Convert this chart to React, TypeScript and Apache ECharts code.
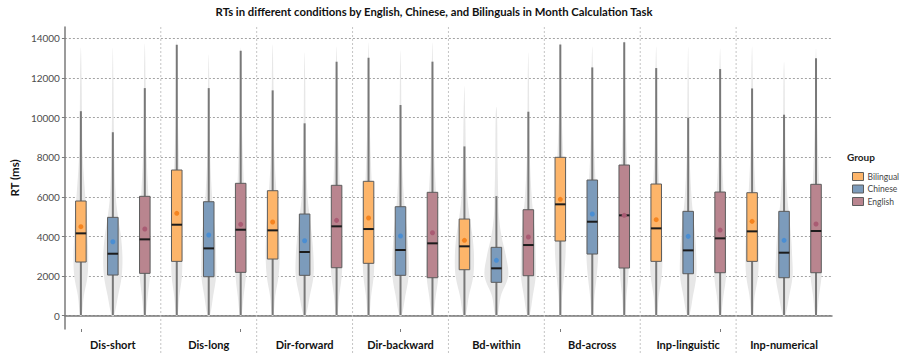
import React, { useEffect, useRef } from "react";
import * as echarts from "echarts";

// Task conditions on the x axis, and the three participant groups.
const conditions = [
  "Dis-short",
  "Dis-long",
  "Dir-forward",
  "Dir-backward",
  "Bd-within",
  "Bd-across",
  "Inp-linguistic",
  "Inp-numerical",
];
const groups = ["Bilingual", "Chinese", "English"];
const yTicks = [0, 2000, 4000, 6000, 8000, 10000, 12000, 14000];

// Box statistics per condition: [whisker low, Q1, median, Q3, whisker high] (ms)
const bilingualBoxes = [
  [30, 2712, 4160, 5793, 10329],
  [30, 2745, 4596, 7358, 13686],
  [30, 2863, 4311, 6313, 11380],
  [30, 2646, 4378, 6787, 13030],
  [30, 2323, 3505, 4883, 8550],
  [30, 3772, 5626, 7999, 13690],
  [30, 2745, 4412, 6651, 12506],
  [30, 2745, 4261, 6212, 11477],
];
const chineseBoxes = [
  [30, 2055, 3131, 4968, 9266],
  [30, 1970, 3401, 5757, 11494],
  [30, 2040, 3217, 5136, 9716],
  [30, 2040, 3318, 5505, 10640],
  [30, 1687, 2394, 3454, 6040],
  [30, 3116, 4747, 6853, 12540],
  [30, 2121, 3301, 5271, 10000],
  [30, 1919, 3183, 5271, 10150],
];
const englishBoxes = [
  [30, 2140, 3857, 6030, 11494],
  [30, 2190, 4343, 6686, 13383],
  [30, 2424, 4514, 6585, 12827],
  [30, 1919, 3656, 6232, 12830],
  [30, 2020, 3570, 5353, 10302],
  [30, 2409, 5070, 7610, 13806],
  [30, 2172, 3907, 6247, 12456],
  [30, 2172, 4278, 6636, 12996],
];

// Mean RT per condition (ms)
const bilingualMeans = [4496, 5170, 4732, 4934, 3808, 5878, 4850, 4765];
const chineseMeans = [3737, 4075, 3788, 4025, 2798, 5136, 4008, 3808];
const englishMeans = [4378, 4614, 4816, 4192, 3974, 5070, 4327, 4631];

// Violin density estimates, sampled at these RT levels (ms)
const violinLevels = [0, 1000, 2000, 3000, 4000, 5000, 6000, 8000, 10000, 12000];
const bilingualDensity = [
  [1, 4, 9, 10, 9, 8, 6, 2.5, 1.5, 1],
  [1, 3.5, 7, 7.5, 7, 6, 5, 3, 1.5, 1],
  [1, 3.5, 8, 9.5, 9, 7.5, 5.5, 2.5, 1.5, 1],
  [1, 3.5, 7, 8, 7.5, 6.5, 5, 3, 1.5, 1],
  [1.5, 6, 12, 13, 11, 7, 4, 2, 1.2, 0.6],
  [1, 2.5, 5, 7, 7.5, 7, 6, 4, 2, 1],
  [1, 3.5, 7.5, 8.5, 8, 7, 5, 2.5, 1.5, 1],
  [1, 3.5, 8, 9, 8.5, 7, 5, 2.5, 1.5, 1],
];
const chineseDensity = [
  [1.5, 7, 12, 13, 11, 7, 4, 2, 1.2, 0.8],
  [1.5, 6, 10, 10, 9, 6.5, 4.5, 2, 1.2, 0.8],
  [1.5, 7, 12, 12, 10, 7, 4, 2, 1.2, 0.8],
  [1.5, 6.5, 11, 11, 9.5, 7, 4.5, 2, 1.2, 0.8],
  [1.5, 6, 16, 13, 7, 3.5, 2.5, 1.5, 1, 0.6],
  [1, 3, 6, 8, 8, 7, 5.5, 3, 1.5, 1],
  [1.5, 6.5, 11, 11, 9.5, 7, 4.5, 2, 1.2, 0.8],
  [1.5, 7, 11.5, 11, 9.5, 7, 4.5, 2, 1.2, 0.8],
];
const englishDensity = [
  [1, 4, 7, 8, 7.5, 6.5, 5, 2.5, 1.5, 1],
  [1, 4, 7, 7.5, 7, 6.5, 5, 3, 1.5, 1],
  [1, 3.5, 7, 8, 7.5, 6.5, 5, 3, 1.5, 1],
  [1, 4.5, 8, 8, 7, 6, 5, 2.5, 1.5, 1],
  [1.5, 6, 10, 10, 9, 7, 4.5, 2, 1.2, 0.8],
  [1, 3, 5.5, 6.5, 6.5, 6, 5.5, 3.5, 2, 1],
  [1, 4.5, 8, 8, 7.5, 6.5, 5, 2.5, 1.5, 1],
  [1, 4, 7.5, 8, 7.5, 6.5, 5, 3, 1.5, 1],
];
// Largest observed RT per condition (end of each violin's upper tail)
const bilingualMax = [13550, 13900, 13700, 13800, 11600, 13900, 13600, 13600];
const chineseMax = [13550, 13200, 13300, 13400, 10550, 13600, 13600, 12830];
const englishMax = [13750, 13550, 13600, 13800, 13300, 14000, 13500, 13500];

const boxFills = ["#fdb56a", "#7c9bbb", "#b9858f"];
const meanColors = ["#f5841f", "#4a8ed3", "#a95b73"];

const FONT = "Lato";

export default function App() {
  const ref = useRef<HTMLDivElement>(null);

  useEffect(() => {
    if (!ref.current) return;
    const chart = echarts.init(ref.current, undefined, { renderer: "svg" });

    const boxSets = [bilingualBoxes, chineseBoxes, englishBoxes];
    const meanSets = [bilingualMeans, chineseMeans, englishMeans];
    const densitySets = [bilingualDensity, chineseDensity, englishDensity];
    const maxSets = [bilingualMax, chineseMax, englishMax];

    // Violins: drawn in the same dodged slots as the boxes.
    const violinData: number[][] = [];
    densitySets.forEach((set, g) =>
      set.forEach((row, i) => violinData.push([i, g, maxSets[g][i], ...row]))
    );

    const renderViolin = (_params: any, api: any) => {
      const ci = api.value(0);
      const g = api.value(1);
      const top = api.value(2);
      const band = api.size([1, 0])[0];
      const unit = (band / 97.6) * 0.75;
      const cx = api.coord([ci, 0])[0] + (g - 1) * (band / 3);
      const right: number[][] = [];
      violinLevels.forEach((lv, k) => {
        if (lv < top) {
          const w = api.value(3 + k) * unit;
          right.push([cx + w, api.coord([ci, lv])[1]]);
        }
      });
      const yTop = api.coord([ci, top])[1];
      const left = right
        .slice()
        .reverse()
        .map((p) => [2 * cx - p[0], p[1]]);
      const points = [...right, [cx, yTop], ...left];
      return {
        type: "polygon",
        shape: { points, smooth: 0.35 },
        style: { fill: "#e7e7e7", stroke: null },
      };
    };

    const makeBoxRenderer = (g: number) => (_params: any, api: any) => {
      const ci = api.value(0);
      const band = api.size([1, 0])[0];
      const cx = api.coord([ci, 0])[0] + (g - 1) * (band / 3);
      const y = (v: number) => api.coord([ci, v])[1];
      const bw = band * 0.11;
      const lo = api.value(1);
      const q1 = api.value(2);
      const med = api.value(3);
      const q3 = api.value(4);
      const hi = api.value(5);
      const mean = api.value(6);
      return {
        type: "group",
        children: [
          {
            type: "line",
            shape: { x1: cx, y1: y(hi), x2: cx, y2: y(lo) },
            style: { stroke: "#787878", lineWidth: 2 },
          },
          {
            type: "rect",
            shape: { x: cx - bw / 2, y: y(q3), width: bw, height: y(q1) - y(q3) },
            style: { fill: boxFills[g], stroke: "#5c5c5c", lineWidth: 1 },
          },
          {
            type: "line",
            shape: { x1: cx - bw / 2, y1: y(med), x2: cx + bw / 2, y2: y(med) },
            style: { stroke: "#1c1c1c", lineWidth: 2 },
          },
          {
            type: "circle",
            shape: { cx, cy: y(mean), r: 2.5 },
            style: { fill: meanColors[g] },
          },
        ],
      };
    };

    // Dashed separators between neighbouring conditions.
    const separatorData = conditions.slice(0, -1).map((_, i) => [i]);
    const renderSeparator = (params: any, api: any) => {
      const ci = api.value(0);
      const band = api.size([1, 0])[0];
      const x = api.coord([ci, 0])[0] + band / 2;
      const cs = params.coordSys;
      return {
        type: "line",
        shape: { x1: x, y1: cs.y, x2: x, y2: cs.y + cs.height + 30 },
        style: { stroke: "#c4c4c4", lineWidth: 1, lineDash: [2, 2] },
      };
    };

    const groupSeries = groups.map((name, g) => ({
      name,
      type: "custom",
      renderItem: makeBoxRenderer(g),
      itemStyle: { color: boxFills[g], borderColor: "#5c5c5c", borderWidth: 1 },
      encode: { x: 0, y: [1, 2, 3, 4, 5] },
      data: boxSets[g].map((b, i) => [i, ...b, meanSets[g][i]]),
      z: 5,
    }));

    chart.setOption({
      animation: false,
      textStyle: { fontFamily: FONT },
      graphic: [
        {
          type: "text",
          x: 434,
          y: 11,
          style: {
            text: "RTs in different conditions by English, Chinese, and Bilinguals in Month Calculation Task",
            font: `bold 11.3px ${FONT}`,
            fill: "#111",
            align: "center",
            verticalAlign: "middle",
          },
        },
        {
          type: "text",
          x: 847,
          y: 157,
          style: {
            text: "Group",
            font: `bold 10px ${FONT}`,
            fill: "#222",
            align: "left",
            verticalAlign: "middle",
          },
        },
      ],
      legend: {
        orient: "vertical",
        left: 847,
        top: 167,
        itemWidth: 11,
        itemHeight: 8,
        itemGap: 3.5,
        icon: "rect",
        data: groups,
        itemStyle: { borderColor: "#5c5c5c", borderWidth: 1 },
        textStyle: { fontSize: 8.5, color: "#444", fontFamily: FONT, padding: [0, 0, 0, -1] },
      },
      grid: { left: 51, right: 67, top: 27, bottom: 25 },
      xAxis: [
        {
          type: "category",
          data: conditions,
          boundaryGap: true,
          axisLine: { show: true, lineStyle: { color: "#7a7a7a", width: 1.5 } },
          axisTick: { show: false },
          splitLine: { show: false },
          axisLabel: {
            margin: 10,
            fontSize: 11,
            fontWeight: "bold",
            color: "#111",
            fontFamily: FONT,
          },
        },
        {
          type: "category",
          position: "bottom",
          data: conditions.flatMap((c) => groups.map((g) => `${c} ${g}`)),
          boundaryGap: true,
          axisLine: { show: false },
          axisTick: { show: true, alignWithLabel: true, length: 3, lineStyle: { color: "#7a7a7a" } },
          axisLabel: { show: false },
          splitLine: { show: false },
        },
      ],
      yAxis: {
        type: "value",
        min: -670,
        max: 14580,
        name: "RT (ms)",
        nameLocation: "middle",
        nameGap: 37,
        nameTextStyle: { fontSize: 11.5, fontWeight: "bold", color: "#111", fontFamily: FONT },
        axisLine: { show: true, lineStyle: { color: "#7a7a7a", width: 1.5 } },
        axisTick: { show: true, length: 3, customValues: yTicks, lineStyle: { color: "#7a7a7a" } },
        axisLabel: {
          customValues: yTicks,
          formatter: (v: number) => String(v),
          fontSize: 10,
          color: "#4d4d4d",
          margin: 5,
          fontFamily: FONT,
        },
        splitLine: {
          show: true,
          customValues: yTicks,
          lineStyle: { color: "#a3a3a3", type: [2, 2], width: 1 },
        },
      },
      series: [
        {
          name: "separators",
          type: "custom",
          renderItem: renderSeparator,
          data: separatorData,
          clip: false,
          silent: true,
          z: 1,
        },
        {
          name: "violins",
          type: "custom",
          renderItem: renderViolin,
          encode: { x: 0, y: 2 },
          data: violinData,
          silent: true,
          z: 2,
        },
        ...groupSeries,
      ],
    });

    return () => chart.dispose();
  }, []);

  return (
    <div
      ref={ref}
      style={{ position: "fixed", left: 0, top: 0, width: 899, height: 354, background: "#fff" }}
    />
  );
}
